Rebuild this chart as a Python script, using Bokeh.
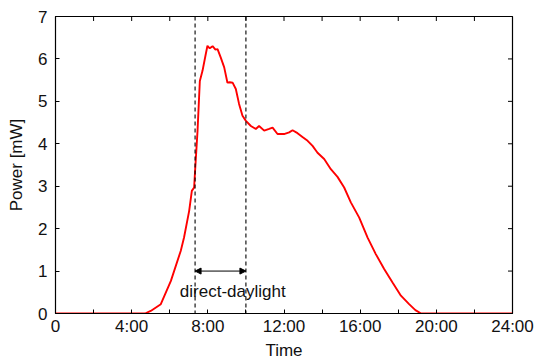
import math
from bokeh.plotting import figure
from bokeh.models import Range1d, FixedTicker, Span, Arrow, NormalHead, Label
from bokeh.embed import file_html
from bokeh.resources import INLINE

hours = [0, 4.0, 4.7, 5.0, 5.53, 6.06, 6.58, 6.75, 7.02, 7.16, 7.28, 7.33, 7.46, 7.58,
         7.72, 7.89, 7.98, 8.1, 8.25, 8.4, 8.51, 8.68, 8.86, 9.03, 9.15, 9.30, 9.47,
         9.64, 9.82, 10.0, 10.26, 10.52, 10.69, 10.96, 11.22, 11.40, 11.66, 12.0,
         12.27, 12.45, 12.71, 12.97, 13.24, 13.50, 13.76, 14.11, 14.46, 14.81, 15.16,
         15.51, 15.95, 16.39, 16.82, 17.26, 17.70, 18.14, 18.57, 18.9, 19.2, 24]
power = [0, 0, 0, 0.06, 0.22, 0.77, 1.48, 1.79, 2.42, 2.89, 2.97, 3.36, 4.31, 5.48,
         5.72, 6.11, 6.31, 6.25, 6.30, 6.22, 6.23, 6.03, 5.80, 5.44, 5.45, 5.44, 5.29,
         4.94, 4.66, 4.54, 4.42, 4.35, 4.42, 4.31, 4.35, 4.38, 4.23, 4.23,
         4.27, 4.32, 4.25, 4.16, 4.07, 3.95, 3.79, 3.64, 3.40, 3.22, 2.97,
         2.62, 2.26, 1.79, 1.40, 1.05, 0.73, 0.42, 0.22, 0.08, 0, 0]

X_MIN, X_MAX = 0, 24
Y_MIN, Y_MAX = 0, 7
x_major_ticks = [0, 4, 8, 12, 16, 20, 24]
x_minor_ticks = [2, 6, 10, 14, 18, 22]
x_tick_labels = ["0", "4:00", "8:00", "12:00", "16:00", "20:00", "24:00"]
y_ticks = [0, 1, 2, 3, 4, 5, 6, 7]

daylight_start = 7.33
daylight_end = 10.0
arrow_y = 1.0
label_text = "direct-daylight"
label_x = 9.31
label_y = 0.53

FONT = "Liberation Sans"
FS = "17px"
TXT = "#111111"

p = figure(width=538, height=362, output_backend="svg", toolbar_location=None,
           x_range=Range1d(X_MIN, X_MAX), y_range=Range1d(Y_MIN, Y_MAX),
           min_border_left=55, min_border_right=26, min_border_top=16, min_border_bottom=49)
p.background_fill_color = "white"
p.border_fill_color = "white"
p.outline_line_color = "black"
p.outline_line_width = 1.2
p.grid.visible = False

p.line(hours, power, line_color="#ff0000", line_width=1.9)

for xv in (daylight_start, daylight_end):
    p.add_layout(Span(location=xv, dimension="height", line_color="black",
                      line_dash="4 3", line_width=1.1))

p.add_layout(Arrow(x_start=daylight_start, y_start=arrow_y, x_end=daylight_end, y_end=arrow_y,
                   line_color="black", line_width=1,
                   start=NormalHead(size=6, fill_color="black", line_color="black"),
                   end=NormalHead(size=6, fill_color="black", line_color="black")))
p.add_layout(Label(x=label_x, y=label_y, text=label_text, text_align="center",
                   text_baseline="middle", text_font=FONT, text_font_size=FS,
                   text_color=TXT))

# mirrored inner ticks on the top and right edges (half of each dash is clipped by the frame)
all_x_ticks = sorted(x_major_ticks + x_minor_ticks)
p.scatter(x=all_x_ticks, y=[Y_MAX] * len(all_x_ticks), marker="dash", angle=math.pi / 2,
          size=9, line_color="black", line_width=1)
p.scatter(x=[X_MAX] * len(y_ticks), y=y_ticks, marker="dash", size=9,
          line_color="black", line_width=1)

def style(ax):
    ax.axis_line_color = "black"
    ax.major_tick_in = 4
    ax.major_tick_out = 0
    ax.minor_tick_in = 4
    ax.minor_tick_out = 0
    ax.major_tick_line_color = "black"
    ax.minor_tick_line_color = "black"
    ax.major_label_text_font = FONT
    ax.major_label_text_font_size = FS
    ax.major_label_text_color = TXT
    ax.axis_label_text_font = FONT
    ax.axis_label_text_font_size = FS
    ax.axis_label_text_font_style = "normal"
    ax.axis_label_text_color = TXT

xa = p.xaxis[0]
xa.ticker = FixedTicker(ticks=x_major_ticks, minor_ticks=x_minor_ticks)
xa.major_label_overrides = {t: l for t, l in zip(x_major_ticks, x_tick_labels)}
xa.axis_label = "Time"
style(xa)
xa.major_label_standoff = 3
xa.axis_label_standoff = 2

ya = p.yaxis[0]
ya.ticker = FixedTicker(ticks=y_ticks)
ya.axis_label = "Power [mW]"
style(ya)
ya.minor_tick_in = 0
ya.major_label_standoff = 8
ya.axis_label_standoff = 9

open("out.html", "w").write(file_html(p, INLINE))
